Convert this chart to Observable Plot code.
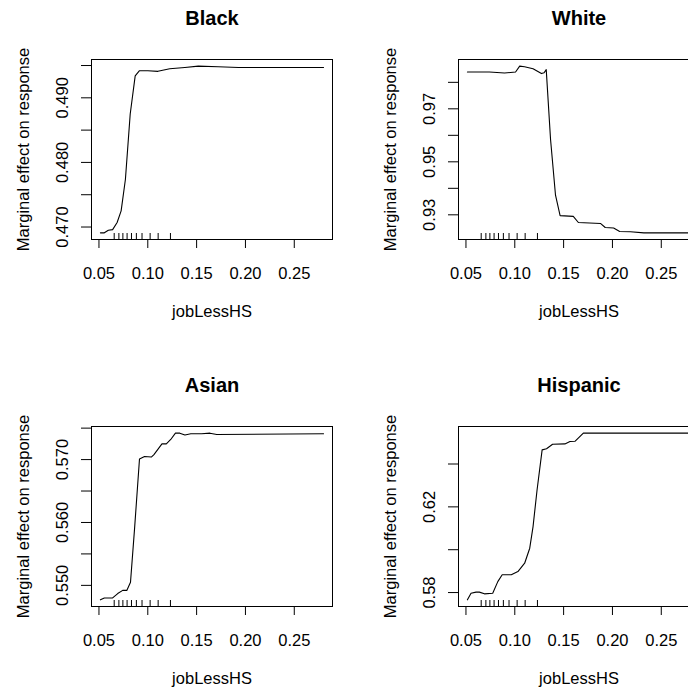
<!DOCTYPE html>
<html>
<head>
<meta charset="utf-8">
<script src="https://cdn.jsdelivr.net/npm/d3@7"></script>
<script src="https://cdn.jsdelivr.net/npm/@observablehq/plot@0.6"></script>
<style>
  html, body { margin: 0; padding: 0; background: white; }
  #wrap { position: relative; width: 688px; height: 689px; overflow: hidden; background: white; }
  .panel { position: absolute; width: 367px; height: 367px; }
</style>
</head>
<body>
<div id="wrap"></div>
<script>
// ---- data ----
const xTicks = [0.05, 0.10, 0.15, 0.20, 0.25];
const rugX = [0.0656, 0.0704, 0.0745, 0.0788, 0.0833, 0.0883, 0.0941, 0.1024, 0.1106, 0.1232];
const xLabel = "jobLessHS";
const yLabel = "Marginal effect on response";

const titles = ["Black", "White", "Asian", "Hispanic"];

const blackX = [0.0515, 0.0555, 0.0596, 0.064, 0.0686, 0.0727, 0.0771, 0.082, 0.0871, 0.0915, 0.1001, 0.1104, 0.1225, 0.138, 0.1517, 0.172, 0.1929, 0.28];
const blackY = [0.4691, 0.4691, 0.4695, 0.4696, 0.4707, 0.4725, 0.4774, 0.4875, 0.4934, 0.4942, 0.4942, 0.4941, 0.4945, 0.4947, 0.4949, 0.4948, 0.4947, 0.4947];
const blackTicks = [0.470, 0.475, 0.480, 0.485, 0.490, 0.495];
const blackLabels = [0.470, 0.480, 0.490];

const whiteX = [0.0515, 0.074, 0.0895, 0.1008, 0.105, 0.110, 0.1187, 0.1273, 0.130, 0.1322, 0.1366, 0.1417, 0.1464, 0.1599, 0.1651, 0.188, 0.1926, 0.2012, 0.2074, 0.2184, 0.2322, 0.28];
const whiteY = [0.9839, 0.9839, 0.9835, 0.9839, 0.9861, 0.9859, 0.9851, 0.9833, 0.9836, 0.9848, 0.9585, 0.9374, 0.9297, 0.9294, 0.9271, 0.9267, 0.9252, 0.9250, 0.9237, 0.9236, 0.9232, 0.9232];
const whiteTicks = [0.93, 0.94, 0.95, 0.96, 0.97, 0.98];
const whiteLabels = [0.93, 0.95, 0.97];

const asianX = [0.0515, 0.0555, 0.064, 0.0692, 0.0743, 0.0785, 0.0823, 0.0864, 0.0915, 0.0967, 0.1036, 0.1063, 0.1145, 0.119, 0.1235, 0.1283, 0.1328, 0.138, 0.1441, 0.1551, 0.1637, 0.1706, 0.28];
const asianY = [0.5477, 0.5480, 0.5480, 0.5487, 0.5492, 0.5492, 0.5505, 0.5589, 0.5701, 0.5705, 0.5704, 0.5708, 0.5725, 0.5725, 0.5732, 0.5742, 0.5742, 0.5739, 0.5741, 0.5741, 0.5742, 0.5740, 0.5741];
const asianTicks = [0.550, 0.555, 0.560, 0.565, 0.570, 0.575];
const asianLabels = [0.550, 0.560, 0.570];

const hispX = [0.0515, 0.0552, 0.0603, 0.0637, 0.0689, 0.0774, 0.0826, 0.0871, 0.0964, 0.1032, 0.1101, 0.1153, 0.1187, 0.1228, 0.128, 0.1325, 0.1387, 0.1513, 0.1565, 0.1616, 0.1702, 0.28];
const hispY = [0.5766, 0.5797, 0.5802, 0.5802, 0.5794, 0.5797, 0.5851, 0.5883, 0.5883, 0.5898, 0.5937, 0.6007, 0.6108, 0.6279, 0.6466, 0.6471, 0.6492, 0.6494, 0.6505, 0.6506, 0.6544, 0.6544];
const hispTicks = [0.58, 0.60, 0.62, 0.64];
const hispLabels = [0.58, 0.62];

// ---- drawing ----
const font = "'Liberation Sans', Arial, Helvetica, sans-serif";

// R-style axis range: data extent extended by 4% on each side
function rPad(ext) {
  const d = (ext[1] - ext[0]) * 0.04;
  return [ext[0] - d, ext[1] + d];
}
const xDomain = rPad(d3.extent(blackX.concat(whiteX, asianX, hispX)));

function panel(title, xs, ys, yTicks, yLabels, digits) {
  const data = xs.map((x, i) => ({x, y: ys[i]}));
  return Plot.plot({
    width: 367,
    height: 367,
    marginLeft: 91,
    marginRight: 35,
    marginTop: 59,
    marginBottom: 128,
    x: {domain: xDomain},
    y: {domain: rPad(d3.extent(ys))},
    style: {fontFamily: font, color: "black", background: "white", overflow: "visible"},
    marks: [
      Plot.frame({stroke: "black", strokeWidth: 1}),
      Plot.line(data, {x: "x", y: "y", stroke: "black", strokeWidth: 1.1}),
      Plot.ruleX(rugX, {x: d => d, insetTop: 174, stroke: "black", strokeWidth: 1}),
      Plot.axisX({ticks: xTicks, tickSize: 9, tickPadding: 19, tickFormat: d => d.toFixed(2), fontSize: 16.5, label: null, stroke: "black"}),
      Plot.axisY({ticks: yTicks, tickSize: 10, tickFormat: () => "", label: null, stroke: "black"}),
      Plot.text(yLabels, {y: d => d, text: d => d.toFixed(digits), frameAnchor: "left", dx: -28.5, rotate: -90, fontSize: 16.5, textAnchor: "middle", lineAnchor: "middle", fill: "black"}),
      Plot.text([yLabel], {text: d => d, frameAnchor: "left", dx: -67.6, rotate: -90, fontSize: 16.5, textAnchor: "middle", lineAnchor: "middle", fill: "black"}),
      Plot.text([xLabel], {text: d => d, frameAnchor: "bottom", dy: 72.3, fontSize: 16.5, textAnchor: "middle", lineAnchor: "middle", fill: "black"}),
      Plot.text([title], {text: d => d, frameAnchor: "top", dy: -40.7, fontSize: 20, fontWeight: "bold", textAnchor: "middle", lineAnchor: "middle", fill: "black"})
    ]
  });
}

const specs = [
  [titles[0], blackX, blackY, blackTicks, blackLabels, 3],
  [titles[1], whiteX, whiteY, whiteTicks, whiteLabels, 2],
  [titles[2], asianX, asianY, asianTicks, asianLabels, 3],
  [titles[3], hispX, hispY, hispTicks, hispLabels, 2]
];

const wrap = document.getElementById("wrap");
specs.forEach((s, i) => {
  const div = document.createElement("div");
  div.className = "panel";
  div.style.left = (i % 2) * 367 + "px";
  div.style.top = Math.floor(i / 2) * 367 + "px";
  div.appendChild(panel(...s));
  wrap.appendChild(div);
});
</script>
</body>
</html>
